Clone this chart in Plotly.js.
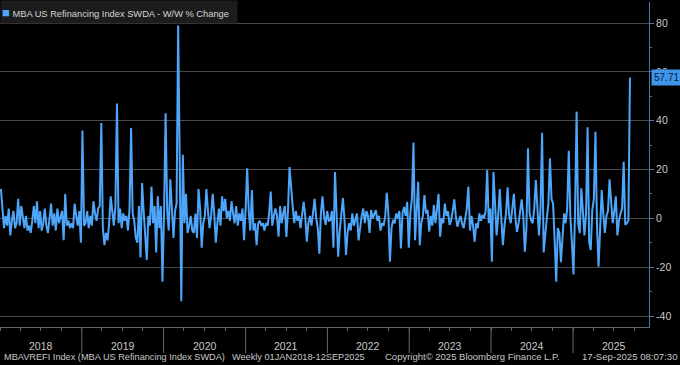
<!DOCTYPE html>
<html>
<head>
<meta charset="utf-8">
<script src="https://cdn.plot.ly/plotly-3.0.1.min.js"></script>
<style>
  html, body { margin: 0; padding: 0; background: #000; }
  #chart { width: 680px; height: 365px; }
</style>
</head>
<body>
<div id="chart"></div>
<script>
// Weekly W/W % change, MBA US Refinancing Index SWDA
const firstWeek = '2018-01-05';
const v2018 = [12,2,-4,1,-3,4,-7,-1,3,-4,-2,8,-3,5,0,-4,1,-5,-3,-6,-1,5,-2,7,-4,3,-5,-2,4,-3,-6,-1,6,-3,2,-5,4,-2,0,3,-9,10,-3,-1,-4,-2,-4,6,1,-3,3,-10];
const v2019 = [36,-3,-2,3,-4,1,-3,7,2,-1,4,5,39,-4,-11,-6,-9,-2,9,2,-3,5,47,-2,4,-4,2,-1,1,-5,4,37,2,-1,-8,-10,5,-16,14.5,3,-6,-17,1,-3,13,-2,5,-14,9,-4,5,-26];
const v2020 = [2,43,3,-5,16,4,-8,3,6,79,5,-34,26,-2,10,-6,-3,1,-5,-6,2,-8,12,4,-12,-2,1,12,3,-4,1,10,2,-10,-2,4,-3,9,3,8,0,3,-1,7,2,-2,5,-3,2,-1,4,-9,4];
const v2021 = [20.5,3,-5,11.6,-5,-2,-11,-2,-1,-3,-2,-5,-2,-3,2,11,-3,1,4,1,-7.5,5,-2,2,5,-7.6,3,21,11.6,5,-2,3,-1,1,-4,2,6.8,1,-9.6,-2,1,-3,2,8,0,-4,-14.5,2,9,1,-2.7,3];
const v2022 = [-1,-0.7,3,-12,19,2,-15.7,-5,1,8.3,0,-15,-6,-2,-5,2,-3,0,2,-9,-3,1,4,-2,3,1,-6,3.4,0,2,3.4,-1,1,-5,-2,-3,1,10.5,2,-17.8,-4,-0.7,-2,2,0,3,-12.3,2,4.7,1,6.8,-12];
const v2023 = [2,8,31,-9,3,15,-11,-2,1,9.5,2,3.4,-5.5,1,-3,5.4,-2,3,10,-7.5,0,-2,6,1,3,-2.7,-1,3,7.8,1,-3.4,-1,1,-2,-4,0,4,13,-5,1,-3,-9.6,-2,-4,2,-1,1.4,0,3,19.8,-2,4];
const v2024 = [-17.8,19,2,-7,1,12,0,-11,-3,2,12.7,1,-2,3,10,0,-5.5,-2,2,7.8,1,-13.7,-4,28.7,2,-0.7,-2,4,15.7,1,-7,4,35,-14,-5,0,6,24.6,8,6,-9,-26,-4,-6,-18,-5,2,-2,4,27.7,1,-10];
const v2025 = [-23,3,43.7,-2,-6,12.3,4,-7,2,37.3,-9.6,-13,3.4,8,35.5,-3,-19.8,-2,11.6,2,-6,1,3,16,5,-2,3,9,-7,-1,2,4,23.2,-2.7,-2,-1,57.71];

const yearLabels = ['2018','2019','2020','2021','2022','2023','2024','2025'];
const yTickVals = [-40,-20,0,20,40,60,80];
const yTickText = ['-40','-20','0','20','40','60','80'];
const seriesName = 'MBA US Refinancing Index SWDA - W/W % Change';
const lastValueText = '57.71';

const values = [].concat(v2018, v2019, v2020, v2021, v2022, v2023, v2024, v2025);
const t0 = Date.parse(firstWeek + 'T00:00:00Z');
const dates = values.map((_, i) => new Date(t0 + i * 7 * 86400000).toISOString().slice(0, 10));
const lastValue = values[values.length - 1];

const BLUE = '#4da6fa';
const TXT = '#c8c8c8';
const FONT = 'Liberation Sans, Arial, sans-serif';

const annotations = [];
yearLabels.forEach(y => {
  annotations.push({
    x: y + '-07-02', xref: 'x', y: -0.058, yref: 'paper',
    text: y, showarrow: false, xanchor: 'center', yanchor: 'middle',
    font: { family: FONT, size: 10.5, color: TXT }
  });
});
annotations.push({
  x: 0, xref: 'paper', y: 1, yref: 'paper', xanchor: 'left', yanchor: 'top', yshift: 2,
  text: '<span style="color:' + BLUE + ';font-size:13px">■</span> ' + seriesName,
  showarrow: false, align: 'left', bgcolor: '#1c1c1c', width: 234, height: 20, borderpad: 1,
  font: { family: FONT, size: 9.3, color: '#d6d6d6' }
});
annotations.push({
  x: 1, xref: 'paper', y: lastValue, yref: 'y', xanchor: 'left', yanchor: 'middle', xshift: 2,
  text: lastValueText, showarrow: false, bgcolor: '#3f95ea', borderpad: 2,
  font: { family: FONT, size: 10, color: '#071a36' }
});
annotations.push({
  x: 0.003, xref: 'paper', y: -0.092, yref: 'paper', xanchor: 'left', yanchor: 'middle',
  text: 'MBAVREFI Index (MBA US Refinancing Index SWDA)', showarrow: false,
  font: { family: FONT, size: 9.2, color: TXT }
});
annotations.push({
  x: 0.354, xref: 'paper', y: -0.092, yref: 'paper', xanchor: 'left', yanchor: 'middle',
  text: 'Weekly 01JAN2018-12SEP2025', showarrow: false,
  font: { family: FONT, size: 9.2, color: TXT }
});
annotations.push({
  x: 0.59, xref: 'paper', y: -0.092, yref: 'paper', xanchor: 'left', yanchor: 'middle',
  text: 'Copyright© 2025 Bloomberg Finance L.P.', showarrow: false,
  font: { family: FONT, size: 9.5, color: TXT }
});
annotations.push({
  x: 1.046, xref: 'paper', y: -0.092, yref: 'paper', xanchor: 'right', yanchor: 'middle',
  text: '17-Sep-2025 08:07:30', showarrow: false,
  font: { family: FONT, size: 9.6, color: TXT }
});

const shapes = yearLabels.slice(1).map(y => ({
  type: 'line', xref: 'x', yref: 'paper', x0: y + '-01-01', x1: y + '-01-01', y0: 0, y1: -0.08,
  line: { color: '#666', width: 1 }
}));

const trace = {
  x: dates, y: values, type: 'scatter', mode: 'lines', name: seriesName,
  line: { color: BLUE, width: 2 }, hoverinfo: 'x+y'
};

const layout = {
  width: 680, height: 365,
  paper_bgcolor: '#000', plot_bgcolor: '#000',
  margin: { l: 0, r: 31, t: 2, b: 38, pad: 0 },
  showlegend: false,
  font: { family: FONT, color: TXT },
  xaxis: {
    type: 'date', range: ['2018-01-01', '2025-12-06'],
    showgrid: false, zeroline: false,
    showline: true, linecolor: '#666', linewidth: 1,
    ticks: 'outside', ticklen: 3, tickcolor: '#666', dtick: 'M3', tick0: '2018-01-01',
    showticklabels: false
  },
  yaxis: {
    side: 'right', range: [-44.5, 88.6],
    tickvals: yTickVals, ticktext: yTickText,
    showgrid: true, gridcolor: '#4a4a4a', gridwidth: 1,
    zeroline: false,
    showline: true, linecolor: '#4f78a8', linewidth: 1,
    ticks: 'outside', ticklen: 4, tickcolor: '#4f78a8',
    minor: { dtick: 10, tick0: 0, ticks: 'outside', ticklen: 2, tickcolor: '#4f78a8', showgrid: false },
    tickfont: { family: FONT, size: 10.5, color: TXT }
  },
  annotations: annotations,
  shapes: shapes
};

Plotly.newPlot('chart', [trace], layout, { displayModeBar: false, staticPlot: true });
</script>
</body>
</html>
